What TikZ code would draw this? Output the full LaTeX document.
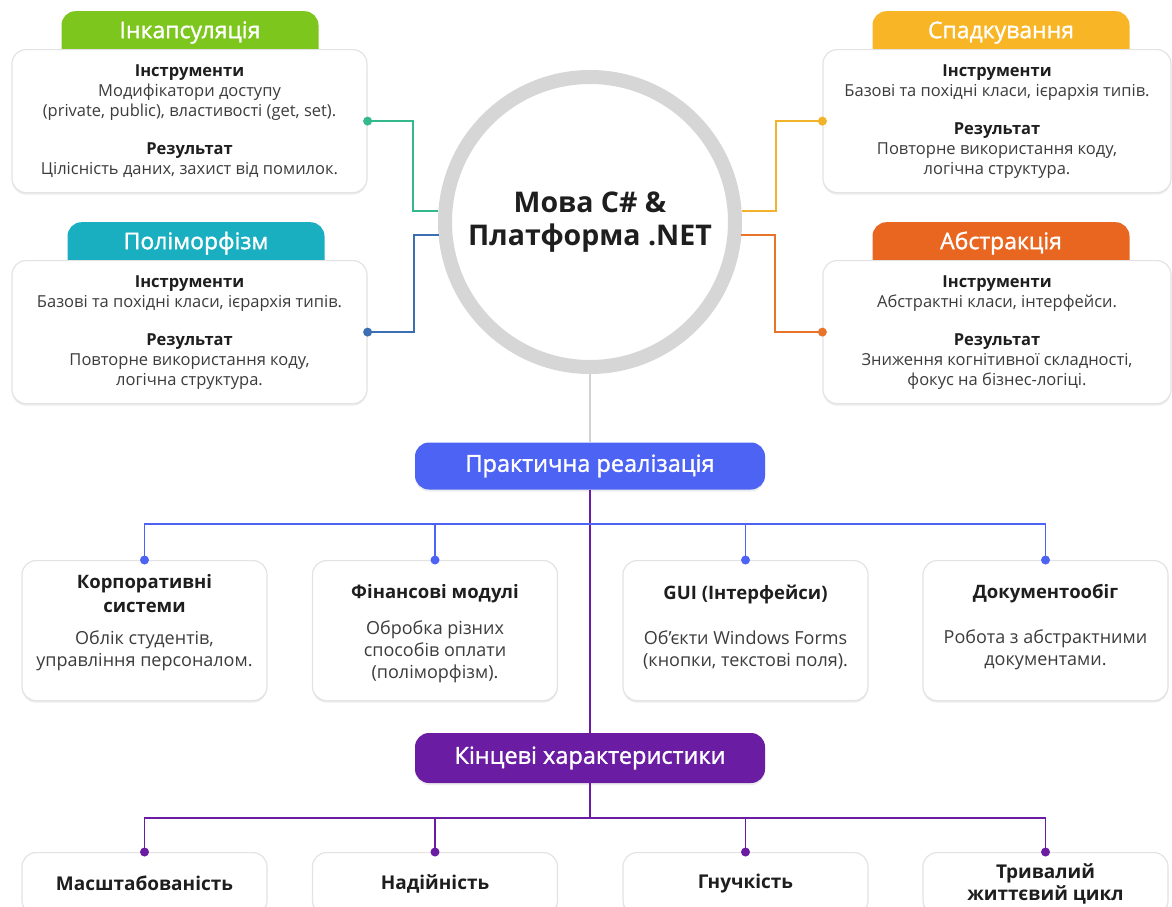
\documentclass[tikz,border=0pt]{standalone}
\usepackage{fontspec}
\setmainfont{Open Sans}
\newfontfamily\semibold{Open Sans}[FakeBold=1.3]
\usepackage{xcolor}
\usepackage{tikz}
\usetikzlibrary{positioning,calc,shadows}

\definecolor{encgreen}{HTML}{7CC61E}
\definecolor{polyteal}{HTML}{19AEC0}
\definecolor{inhyellow}{HTML}{F8B627}
\definecolor{absorange}{HTML}{E8661F}
\definecolor{lnkgreen}{HTML}{33B98A}
\definecolor{lnkblue}{HTML}{3B6EB2}
\definecolor{lnkyellow}{HTML}{F2B22A}
\definecolor{lnkorange}{HTML}{E8742A}
\definecolor{practblue}{HTML}{4C63F4}
\definecolor{finpurple}{HTML}{6A1CA2}
\definecolor{txtgray}{HTML}{3C3C3C}
\definecolor{headblack}{HTML}{1E1E1E}
\definecolor{ringgray}{HTML}{D6D6D6}

\newcommand{\cardhead}[1]{{\bfseries\color{headblack}#1}}

\begin{document}
\begin{tikzpicture}[x=1pt, y=-1pt,
      card/.style={rectangle, draw=gray!22, line width=1.2pt, fill=white, rounded corners=14pt,
                   minimum height=143pt, anchor=north, align=center, text=txtgray,
                   font=\fontsize{16.5}{20}\selectfont,
                   drop shadow={opacity=0.15, shadow xshift=0pt, shadow yshift=-2pt}},
      tab/.style={rectangle, rounded corners=14pt, minimum width=257pt, inner sep=0pt,
                  text height=27pt, text depth=27pt, anchor=north, text=white,
                  font=\fontsize{23}{26}\semibold},
      box/.style={rectangle, draw=gray!22, line width=1.2pt, fill=white, rounded corners=14pt,
                  minimum width=245pt, anchor=north, align=center, text=headblack,
                  drop shadow={opacity=0.15, shadow xshift=0pt, shadow yshift=-2pt}},
      ttl/.style={align=center, text=headblack, font=\fontsize{18.5}{24}\selectfont\bfseries},
      bdy/.style={align=center, text=txtgray, font=\fontsize{18}{22}\selectfont},
      hub/.style={rectangle, rounded corners=14pt, minimum width=350pt, text=white,
                  font=\fontsize{23.5}{26}\semibold,
                  drop shadow={opacity=0.15, shadow xshift=0pt, shadow yshift=-2pt}},
      link/.style={line width=2pt},
      bus/.style={line width=1.8pt},
    ]
    \useasboundingbox (0,0) rectangle (1172,906);
    \clip (0,0) rectangle (1172,906);

    % centre
    \node[circle, draw=ringgray, line width=14pt, fill=white, minimum size=290pt, align=center,
          text=headblack, font=\fontsize{28.5}{33}\selectfont\bfseries,
          drop shadow={opacity=0.12, shadow xshift=0pt, shadow yshift=-2pt}]
          (circ) at (590,222) {Мова C\# \&\\Платформа .NET};

    % four principles
    \node[tab, fill=encgreen]   (enct)  at (190,11)  {Інкапсуляція};
    \node[card, minimum width=355pt] (enc) at (189.5,49)
      {\cardhead{Інструменти}\\Модифікатори доступу\\(private, public), властивості (get, set).\\[18pt]
       \cardhead{Результат}\\Цілісність даних, захист від помилок.};

    \node[tab, fill=polyteal]   (polyt) at (196,222) {Поліморфізм};
    \node[card, minimum width=355pt] (poly) at (189.5,260)
      {\cardhead{Інструменти}\\Базові та похідні класи, ієрархія типів.\\[18pt]
       \cardhead{Результат}\\Повторне використання коду,\\логічна структура.};

    \node[tab, fill=inhyellow]  (inht)  at (1001,11)  {Спадкування};
    \node[card, minimum width=348pt] (inh) at (997,49)
      {\cardhead{Інструменти}\\Базові та похідні класи, ієрархія типів.\\[18pt]
       \cardhead{Результат}\\Повторне використання коду,\\логічна структура.};

    \node[tab, fill=absorange]  (abst)  at (1001,222) {Абстракція};
    \node[card, minimum width=348pt] (abs) at (997,260)
      {\cardhead{Інструменти}\\Абстрактні класи, інтерфейси.\\[18pt]
       \cardhead{Результат}\\Зниження когнітивної складності,\\фокус на бізнес-логіці.};

    \draw[link, lnkgreen]  (circ.176) -- ++(-25,0) |- (enc.east);
    \draw[link, lnkblue]   (circ.185) -- ++(-25,0) |- (poly.east);
    \draw[link, lnkyellow] (circ.4)   -- ++(34,0)  |- (inh.west);
    \draw[link, lnkorange] (circ.355) -- ++(34,0)  |- (abs.west);
    \fill[lnkgreen]  (enc.east)  circle (4.5pt);
    \fill[lnkblue]   (poly.east) circle (4.5pt);
    \fill[lnkyellow] (inh.west)  circle (4.5pt);
    \fill[lnkorange] (abs.west)  circle (4.5pt);

    % practical use
    \node[hub, fill=practblue, minimum height=47pt] (pract) at (590,466) {Практична реалізація};
    \node[hub, fill=finpurple, minimum height=50pt] (final) at (590,758) {Кінцеві характеристики};
    \draw[line width=1.5pt, gray!35] (circ) -- (pract);
    \draw[bus, finpurple] (pract) -- (final);

    \node[box, minimum height=140pt] (kor) at (144.5,560) {};
    \node[box, minimum height=140pt] (fnm) at (435,560)   {};
    \node[box, minimum height=140pt] (gui) at (745.5,560) {};
    \node[box, minimum height=140pt] (doc) at (1045.5,560) {};

    \node[ttl] (korT) at (144.5,594)  {Корпоративні\\системи};
    \node[bdy] (korB) at (144.5,651)  {Облік студентів,\\управління персоналом.};
    \node[ttl] (fnmT) at (435,594)    {Фінансові модулі};
    \node[bdy] (fnmB) at (435,652)    {Обробка різних\\способів оплати\\(поліморфізм).};
    \node[ttl] (guiT) at (745.5,594)  {GUI (Інтерфейси)};
    \node[bdy] (guiB) at (745.5,650)  {Об’єкти Windows Forms\\(кнопки, текстові поля).};
    \node[ttl] (docT) at (1045.5,594) {Документообіг};
    \node[bdy] (docB) at (1045.5,650) {Робота з абстрактними\\документами.};

    \coordinate (pbus) at (590,524);
    \foreach \n in {kor,fnm,gui,doc} {
      \draw[bus, practblue] (pbus) -| (\n.north);
      \fill[practblue] (\n.north) circle (4.5pt);
    }

    % final properties
    \node[box, minimum height=62pt, font=\fontsize{19}{22}\selectfont\bfseries] (msc) at (144.5,852)  {Масштабованість};
    \node[box, minimum height=62pt, font=\fontsize{19}{22}\selectfont\bfseries] (nad) at (435,852)    {Надійність};
    \node[box, minimum height=62pt, font=\fontsize{19}{22}\selectfont\bfseries] (gnu) at (745.5,852)  {Гнучкість};
    \node[box, minimum height=62pt, font=\fontsize{19}{22}\selectfont\bfseries] (trv) at (1045.5,852) {Тривалий\\життєвий цикл};

    \coordinate (fbus) at (590,818);
    \draw[bus, finpurple] (final) -- (fbus);
    \foreach \n in {msc,nad,gnu,trv} {
      \draw[bus, finpurple] (fbus) -| (\n.north);
      \fill[finpurple] (\n.north) circle (4.5pt);
    }
  \end{tikzpicture}
\end{document}
